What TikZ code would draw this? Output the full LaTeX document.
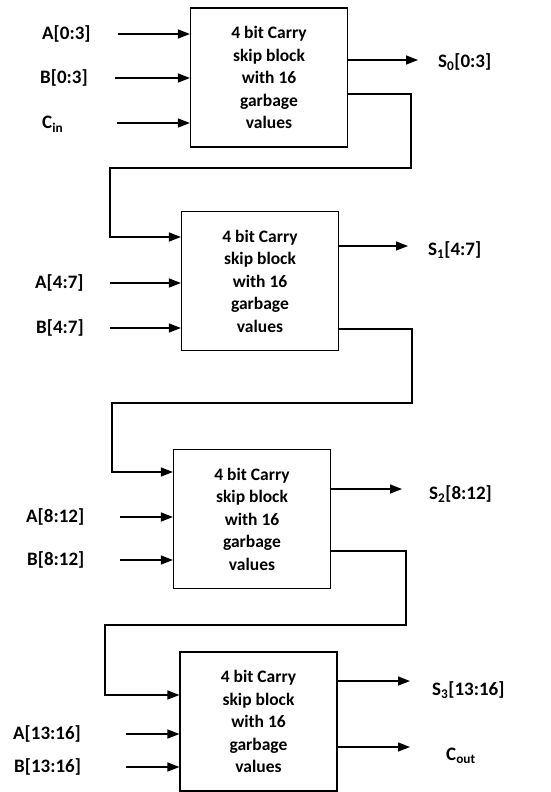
\documentclass[tikz,border=0pt]{standalone}
\usepackage{fontspec}
\setmainfont{Carlito}
\usepackage{tikz}
\usetikzlibrary{positioning,calc}
\usetikzlibrary{arrows.meta}
\tikzset{
  blk/.style={draw=black,line width=1.2pt,fill=white,inner sep=0pt,
    minimum width=157pt,minimum height=139pt,align=center,
    font=\fontsize{17.5}{22.5}\selectfont\bfseries},
  lbl/.style={anchor=west,inner sep=0pt,text height=12.5pt,text depth=1pt,
    font=\fontsize{19}{22}\selectfont\bfseries},
  arr/.style={draw=black,line width=1.4pt,-{Triangle[length=12pt,width=9pt]}},
}

\begin{document}
\begin{tikzpicture}[x=1pt,y=-1pt]
\useasboundingbox (0,0) rectangle (551,792);
\node[blk] (blk1) at (269,77.5) {4 bit Carry\\skip block\\with 16\\garbage\\values};
\node[blk] (blk2) at (260,281) {4 bit Carry\\skip block\\with 16\\garbage\\values};
\node[blk] (blk3) at (252,519) {4 bit Carry\\skip block\\with 16\\garbage\\values};
\node[blk] (blk4) at (258.5,721.5) {4 bit Carry\\skip block\\with 16\\garbage\\values};
% inputs
\node[lbl] (a1) at (42,34) {A[0:3]};
\node[lbl] (b1) at (40,78) {B[0:3]};
\node[lbl] (cin) at (42,123) {C\textsubscript{in}};
\node[lbl] (a2) at (35,283) {A[4:7]};
\node[lbl] (b2) at (36,328) {B[4:7]};
\node[lbl] (a3) at (26,517) {A[8:12]};
\node[lbl] (b3) at (27,560) {B[8:12]};
\node[lbl] (a4) at (13,734) {A[13:16]};
\node[lbl] (b4) at (14,767) {B[13:16]};
\draw[arr] (a1.west) ++(76,0) -- (a1 -| blk1.west);
\draw[arr] (b1.west) ++(75,0) -- (b1 -| blk1.west);
\draw[arr] (cin.west) ++(75,0) -- (cin -| blk1.west);
\draw[arr] (a2.west) ++(75,0) -- (a2 -| blk2.west);
\draw[arr] (b2.west) ++(74,0) -- (b2 -| blk2.west);
\draw[arr] (a3.west) ++(94,0) -- (a3 -| blk3.west);
\draw[arr] (b3.west) ++(93,0) -- (b3 -| blk3.west);
\draw[arr] (a4.west) ++(113,0) -- (a4 -| blk4.west);
\draw[arr] (b4.west) ++(112,0) -- (b4 -| blk4.west);
% outputs
\node[lbl] (s0) at (438,62) {S\textsubscript{0}[0:3]};
\node[lbl] (s1) at (428,250) {S\textsubscript{1}[4:7]};
\node[lbl] (s2) at (429,494) {S\textsubscript{2}[8:12]};
\node[lbl] (s3) at (432,690) {S\textsubscript{3}[13:16]};
\node[lbl] (cout) at (446,755) {C\textsubscript{out}};
\coordinate (s0e) at (418,60);
\coordinate (s1e) at (408,246);
\coordinate (s2e) at (402,489);
\coordinate (s3e) at (410,681);
\coordinate (coe) at (410,747);
\draw[arr] (blk1.east |- s0e) -- (s0e);
\draw[arr] (blk2.east |- s1e) -- (s1e);
\draw[arr] (blk3.east |- s2e) -- (s2e);
\draw[arr] (blk4.east |- s3e) -- (s3e);
\draw[arr] (blk4.east |- coe) -- (coe);
% carry chain
\draw[arr] (blk1.east |- 0,94) -| (411,168) -| (110,237) -- (blk2.west |- 0,237);
\draw[arr] (blk2.east |- 0,329) -| (412,403) -| (112,472) -- (blk3.west |- 0,472);
\draw[arr] (blk3.east |- 0,551) -| (406,625) -| (105,695) -- (blk4.west |- 0,695);
\end{tikzpicture}
\end{document}
